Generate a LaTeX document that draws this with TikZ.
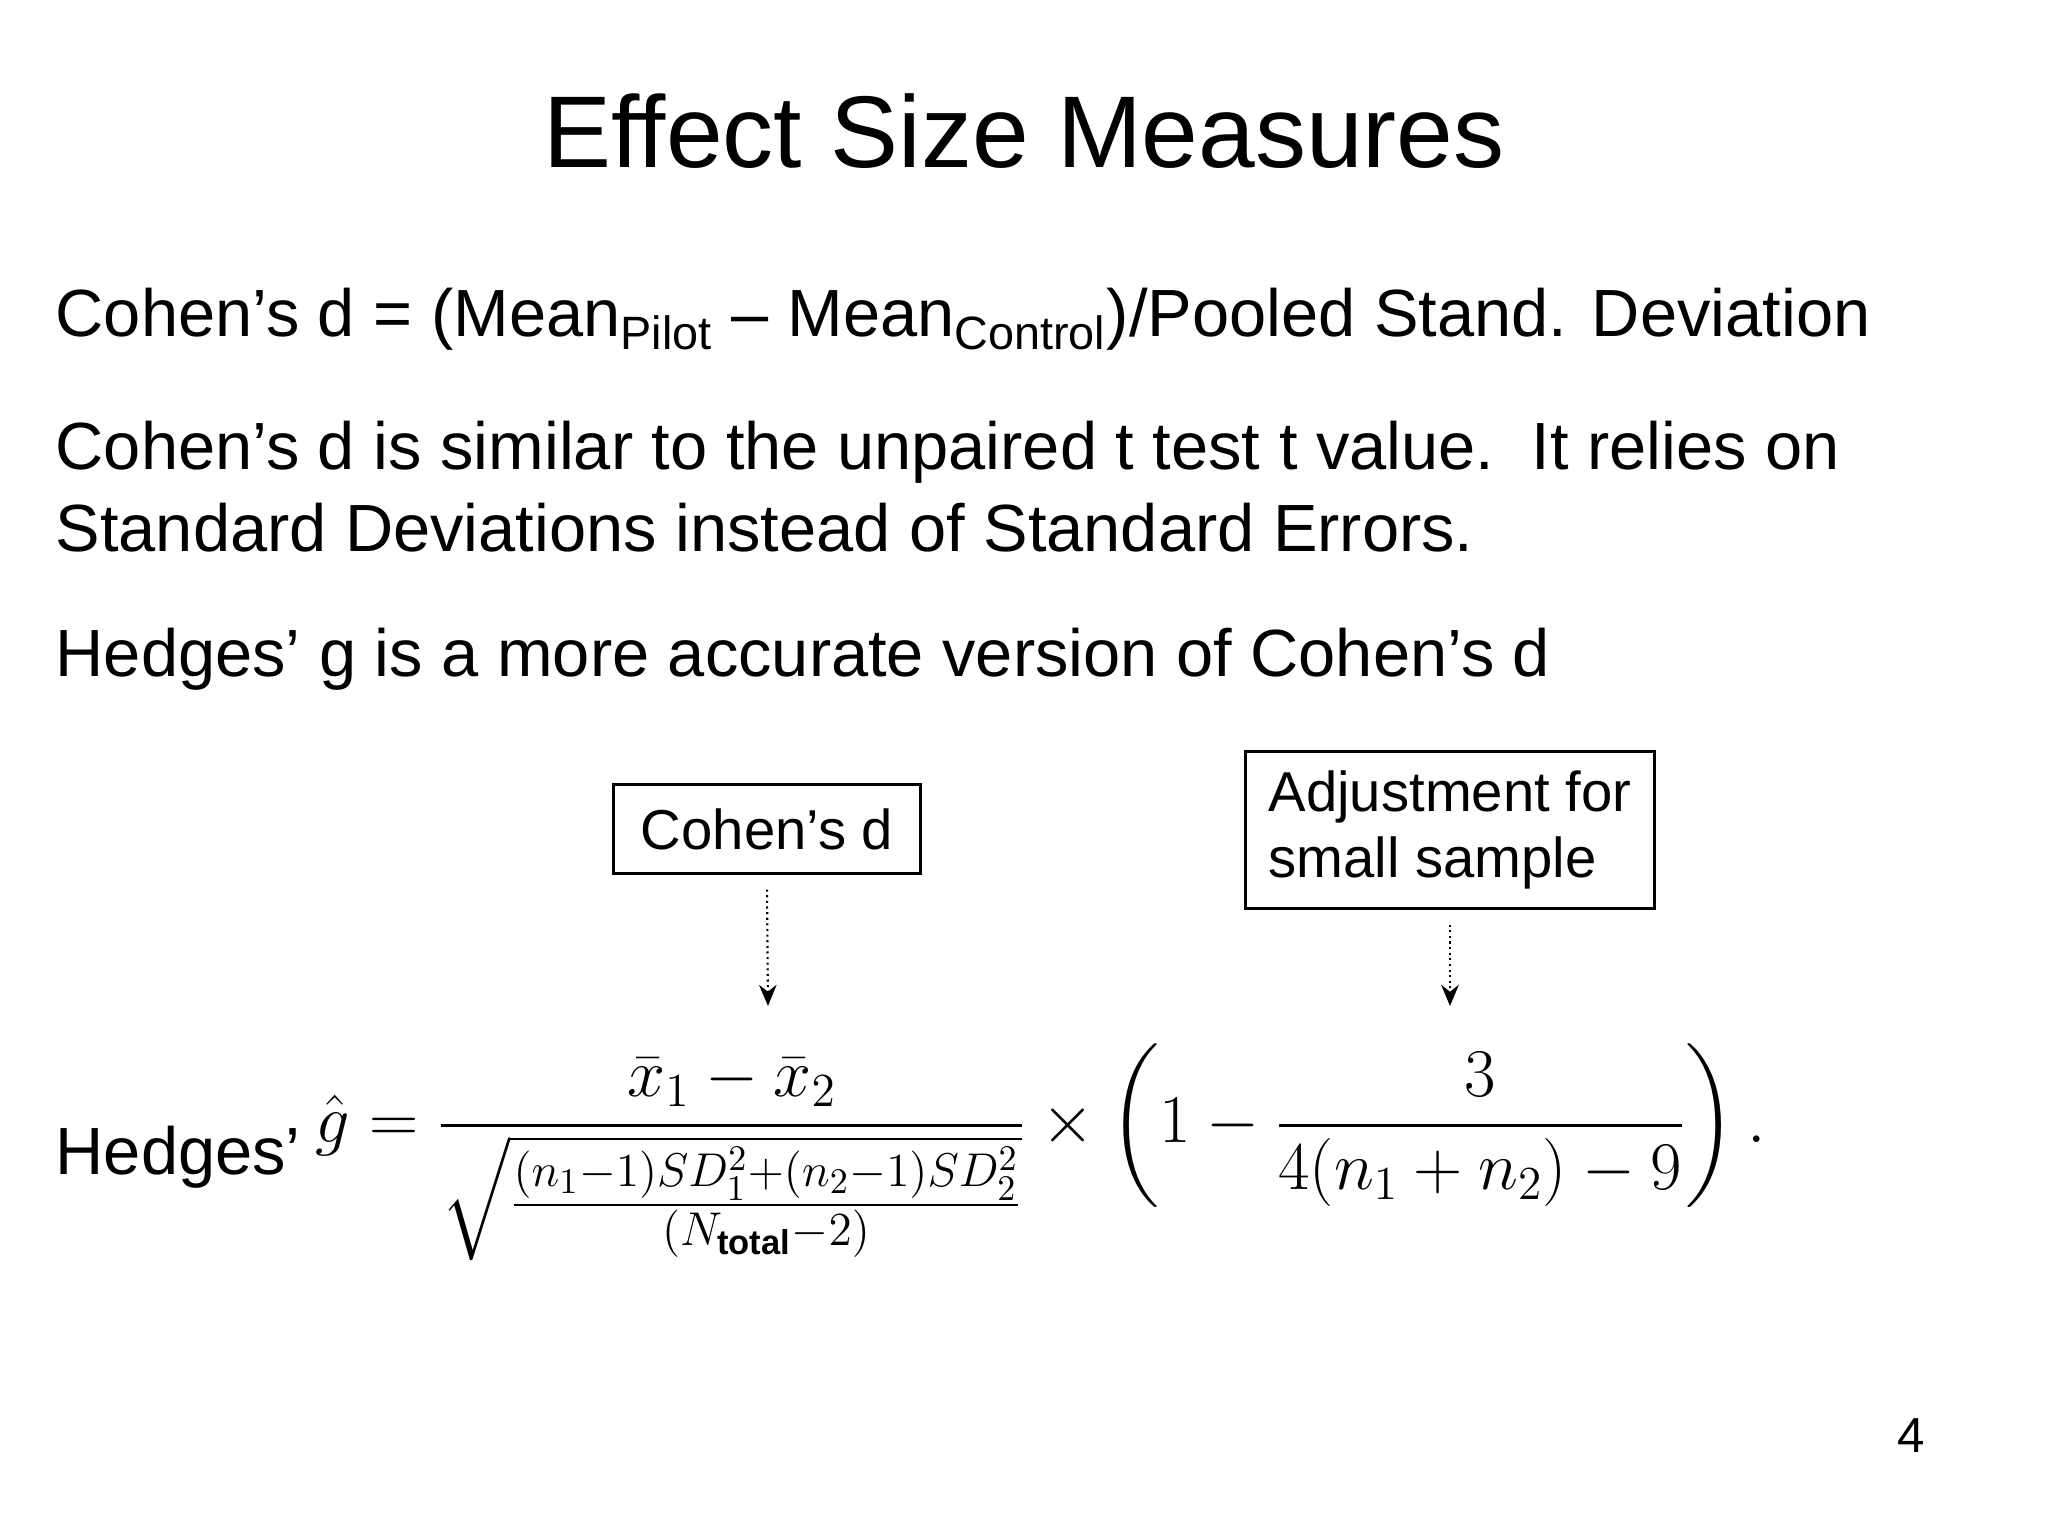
\documentclass[tikz,border=0pt]{standalone}
\usepackage{fontspec}
\setmainfont{Liberation Sans}
\usepackage{amsmath}
\usepackage{graphicx}
\usetikzlibrary{arrows.meta}
\begin{document}
\begin{tikzpicture}[x=1cm,y=1cm,
  body/.style={anchor=base west,inner sep=0pt,font=\fontsize{19}{23}\selectfont},
  lbl/.style={draw,line width=0.6pt,inner sep=5pt,font=\fontsize{16}{19}\selectfont,align=left},
  dotarrow/.style={densely dotted,line width=0.6pt,-{Stealth[length=6pt,width=5pt]}}]
\useasboundingbox (0,0) rectangle (20.48,15.36);
\node (title) at (10.24,14.05) {\fontsize{29}{35}\selectfont Effect Size Measures};
\node[body] (l1) at (0.55,11.99) {Cohen’s d = (Mean\textsubscript{Pilot} – Mean\textsubscript{Control})/Pooled Stand. Deviation};
\node[body] (l2) at (0.55,10.66) {Cohen’s d is similar to the unpaired t test t value.\ \ It relies on};
\node[body] (l3) at (0.55,9.84) {Standard Deviations instead of Standard Errors.};
\node[body] (l4) at (0.55,8.59) {Hedges’ g is a more accurate version of Cohen’s d};
\node[body] (hl) at (0.55,3.61) {Hedges’};
\node[lbl,minimum width=3.07cm,minimum height=0.89cm] (cb) at (7.67,7.07) {Cohen’s d};
\node[lbl,minimum width=4.09cm,minimum height=1.57cm] (ab) at (14.5,7.06) {Adjustment for\\small sample};
\coordinate (ca) at (7.68,5.30);
\coordinate (aa) at (14.5,5.30);
\draw[dotarrow] ([yshift=-0.15cm]cb.south) -- (ca);
\draw[dotarrow] ([yshift=-0.15cm]ab.south) -- (aa);
\node[inner sep=0pt] (f) at (10.41,3.84) {\resizebox{14.5cm}{!}{\fontsize{21}{25}\selectfont$\displaystyle \hat g = \frac{\bar x_1-\bar x_2}{\sqrt{\frac{(n_1-1)SD_1^2+(n_2-1)SD_2^2}{(N_{\mathbf{total}}-2)}}} \times \left(1-\frac{3}{4(n_1+n_2)-9}\right).$}};
\node (pg) at (19.11,1.0) {\fontsize{14}{17}\selectfont 4};
\end{tikzpicture}
\end{document}
